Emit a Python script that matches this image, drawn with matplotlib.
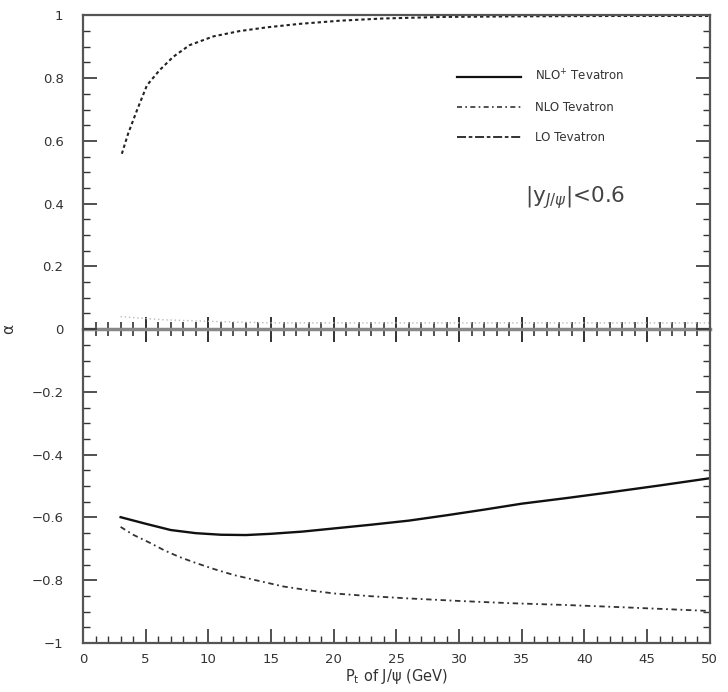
import numpy as np
import matplotlib.pyplot as plt
from matplotlib.lines import Line2D

# alpha (polarisation) of J/psi vs P_t at the Tevatron, |y| < 0.6
pt_lo = [3.1, 3.6, 4.3, 5.1, 6.1, 7.2, 8.5, 10.4, 12.5, 14.7, 17.3, 20.5, 23.9, 28.7, 35.0, 42.0, 50.0]
alpha_lo = [0.559, 0.623, 0.697, 0.777, 0.825, 0.868, 0.905, 0.933, 0.95, 0.962, 0.973,
            0.983, 0.99, 0.995, 0.997, 0.998, 0.998]

pt_nlo = [3.0, 4.0, 5.3, 6.5, 7.7, 9.0, 10.5, 12.0, 13.8, 16.0, 18.0, 20.0, 23.0, 26.0,
          30.0, 34.0, 38.6, 43.0, 46.5, 50.0]
alpha_nlo = [-0.63, -0.655, -0.68, -0.705, -0.726, -0.745, -0.765, -0.783, -0.8, -0.82,
             -0.832, -0.842, -0.851, -0.858, -0.866, -0.873, -0.879, -0.886, -0.892, -0.898]

pt_nlop = [3.0, 5.0, 7.0, 9.0, 11.0, 13.0, 15.0, 17.5, 20.0, 23.0, 26.0, 29.0, 32.0,
           35.0, 38.6, 42.0, 46.0, 50.0]
alpha_nlop = [-0.599, -0.62, -0.64, -0.65, -0.655, -0.656, -0.652, -0.645, -0.635, -0.623,
              -0.61, -0.593, -0.575, -0.556, -0.538, -0.52, -0.498, -0.475]

# faint curve hugging zero
pt_zero = [3.0, 6.4, 10.0, 15.0, 25.0, 35.0, 50.0]
alpha_zero = [0.04, 0.03, 0.025, 0.02, 0.02, 0.02, 0.02]

labels = ["NLO$^{+}$ Tevatron", "NLO Tevatron", "LO Tevatron"]

plt.rcParams['font.family'] = ['DejaVu Sans']

fig = plt.figure(figsize=(7.28, 6.92), dpi=100)
ax = fig.add_axes([0.114, 0.0708, 0.861, 0.907])

ls_lo = (0, (1.6, 1.4))
ls_nlo = (0, (3, 2, 1, 2))

ax.plot(pt_lo, alpha_lo, color='#222222', lw=1.5, ls=ls_lo)
ax.plot(pt_nlop, alpha_nlop, color='#111111', lw=1.7, ls='-')
ax.plot(pt_nlo, alpha_nlo, color='#333333', lw=1.3, ls=ls_nlo)
ax.plot(pt_zero, alpha_zero, color='#bbbbbb', lw=1.0, ls=(0, (1, 2)))

ax.set_xlim(0, 50)
ax.set_ylim(-1, 1)

ax.set_xticks(np.arange(0, 51, 5))
ax.set_xticks(np.arange(0, 51, 1), minor=True)
ax.set_yticks(np.arange(-1, 1.01, 0.2))
ax.set_yticks(np.arange(-1, 1.01, 0.05), minor=True)
ax.set_yticklabels([f"{v:g}".replace('-', '\u2212') if abs(v) > 1e-9 else "0"
                    for v in np.arange(-1, 1.01, 0.2)])

ax.tick_params(axis='both', which='major', direction='in', length=10, width=1.2,
               labelsize=9.5, colors='#333333')
ax.tick_params(axis='y', which='major', pad=14)
ax.tick_params(axis='x', which='major', pad=7)
ax.tick_params(axis='both', which='minor', direction='in', length=5, width=1.0,
               colors='#333333')
ax.tick_params(axis='y', right=True, which='both')
ax.tick_params(axis='x', top=False, which='both')

for side in ['left', 'right', 'bottom', 'top']:
    ax.spines[side].set_color('#555555')
    ax.spines[side].set_linewidth(1.6)

# zero line with crossing ticks
mid = ax.secondary_xaxis(0.5)
mid.set_xticks(np.arange(0, 51, 5))
mid.set_xticks(np.arange(0, 51, 1), minor=True)
mid.tick_params(which='major', direction='inout', length=18, width=1.3,
                labelbottom=False, labeltop=False, colors='#222222')
mid.tick_params(which='minor', direction='inout', length=10, width=1.1, colors='#222222')
mid.spines['bottom'].set_color('#888888')
mid.spines['bottom'].set_linewidth(2.5)
mid.spines['top'].set_color('#888888')
mid.spines['top'].set_linewidth(2.5)

ax.set_xlabel("P$_\\mathregular{t}$ of J/\u03c8 (GeV)", fontsize=10.5, color='#333333', labelpad=1)
ax.text(-0.13, 0.5, "\u03b1", transform=ax.transAxes, fontsize=11, color='#333333',
        ha='left', va='center', rotation=90)

handles = [Line2D([], [], color='#111111', lw=1.6, ls='-'),
           Line2D([], [], color='#333333', lw=1.2, ls=ls_nlo),
           Line2D([], [], color='#222222', lw=1.3, ls=(0, (5, 1.5, 2, 1.5)))]
ax.legend(handles, labels, loc='upper left', bbox_to_anchor=(0.58, 0.932), frameon=False,
          fontsize=8.5, handlelength=5.4, handletextpad=1.2, labelspacing=1.45,
          labelcolor='#333333')

ax.text(0.705, 0.71, "|y$_{J/\u03c8}$|<0.6", transform=ax.transAxes,
        fontsize=15.5, color='#444444', ha='left', va='center')

fig.savefig('out.png', dpi=100)
